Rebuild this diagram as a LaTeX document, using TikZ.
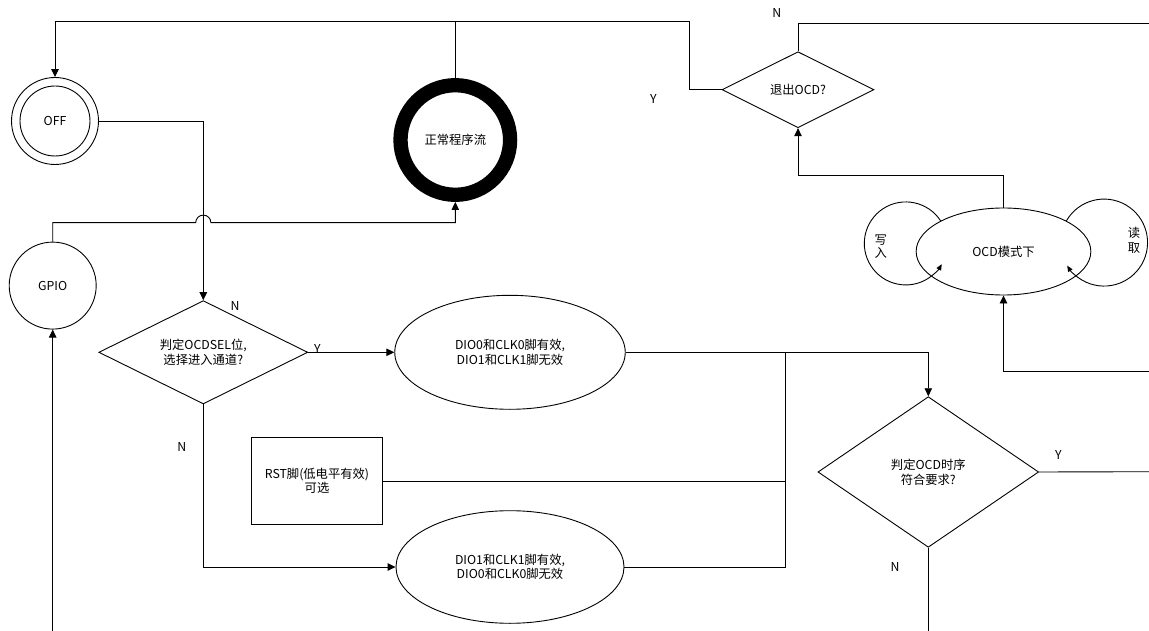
\documentclass[tikz,border=0pt]{standalone}
\usepackage{fontspec}
\setmainfont{Noto Sans CJK SC}
\usetikzlibrary{shapes.geometric,arrows.meta,calc}
\begin{document}
\begin{tikzpicture}[x=1pt,y=-1pt,
  every node/.style={font=\fontsize{12.3pt}{14.6pt}\selectfont, inner sep=0pt},
  ln/.style={line width=0.9pt, draw=black},
  arr/.style={ln, -{Triangle[length=8pt,width=7.5pt]}},
  sarr/.style={ln, -{Triangle[length=6pt,width=5pt]}},
  dia/.style={diamond, draw, line width=0.9pt, aspect=2, align=center},
  ell/.style={ellipse, draw, line width=0.9pt, align=center},
  circ/.style={circle, draw, line width=0.9pt, minimum size=87pt}
]
\fill[white] (0,0) rectangle (1149,631);
\useasboundingbox (0,0) rectangle (1149,631);

% nodes
\node[circ] (off) at (55,121) {OFF};
\draw[ln] (off.center) circle[radius=35pt];
\node[circle, draw, line width=14.3pt, minimum size=109.6pt] (normal) at (455.3,140) {正常程序流};
\node[circ] (gpio) at (52.7,285.6) {GPIO};
\node[dia, minimum width=152pt, minimum height=76pt] (exit) at (798,89.7) {退出OCD?};
\node[ell, minimum width=174.7pt, minimum height=87pt] (ocd) at (1003.5,251.5) {OCD模式下};
\node[dia, minimum width=209pt, minimum height=103.3pt] (sel) at (203.3,352.3) {判定OCDSEL位,\\选择进入通道?};
\node[ell, minimum width=230.5pt, minimum height=114pt] (e1) at (510,352.3) {DIO0和CLK0脚有效,\\DIO1和CLK1脚无效};
\node[ell, minimum width=228pt, minimum height=112.6pt] (e2) at (510,567) {DIO1和CLK1脚有效,\\DIO0和CLK0脚无效};
\node[draw, line width=0.9pt, minimum width=131.4pt, minimum height=86.6pt, align=center] (rst) at (317,481) {RST脚(低电平有效)\\可选};
\node[dia, minimum width=220.7pt, minimum height=150.6pt] (ocdt) at (928.3,472) {判定OCD时序\\符合要求?};

% loop labels
\node[align=center, font=\fontsize{12.3pt}{13.5pt}\selectfont] (wr) at (880.7,246.7) {写\\入};
\node[align=center, font=\fontsize{12.3pt}{15pt}\selectfont] (rd) at (1134,240.8) {读\\取};

% coordinates
\coordinate (tA) at (689,21.3);
\coordinate (tB) at (1149,23.3);
\coordinate (tC) at (1003.5,175.7);
\coordinate (tD) at (1149,371.7);
\coordinate (hop) at (203.3,222.7);
\coordinate (J) at (785.6,352.3);
\coordinate (tE) at (1149,471.7);
\coordinate (tF) at (928.3,631);
\coordinate (tG) at (52.7,631);

% connectors
\draw[arr] (exit.west) -| (tA) -| (off.north);
\draw[ln] (normal.north) -- (normal.north |- tA);
\draw[ln] (exit.north) |- (tB);
\draw[arr] (ocd.north) -- (tC) -| (exit.south);
\draw[arr] (tD) -| (ocd.south);
\draw[sarr] (ocd.154) arc[start angle=33,end angle=330,radius=41.5pt];
\draw[sarr] (ocd.26) arc[start angle=150,end angle=-148,radius=43.5pt];
\draw[arr] (off.east) -| (sel.north);
\draw[arr] (gpio.north) |- ([xshift=-7.6pt]hop) arc[start angle=180,end angle=0,radius=7.6pt] -| (normal.south);
\draw[arr] (tG) -- (gpio.south);
\draw[arr] (sel.east) -- (e1.west);
\draw[arr] (sel.south) |- (e2.west);
\draw[arr] (e1.east) -| (ocdt.north);
\draw[ln] (e2.east) -| (J);
\draw[ln] (rst.east) -- (rst.east -| J);
\draw[ln] (ocdt.east) -- (tE);
\draw[ln] (ocdt.south) -- (tF);

% labels
\node (n1) at (235,306) {N};
\node (y1) at (317.3,349.3) {Y};
\node (n2) at (181.7,446.7) {N};
\node (y2) at (653.3,99.3) {Y};
\node (n3) at (776.7,12.7) {N};
\node (y3) at (1058.3,455) {Y};
\node (n4) at (895,566.7) {N};
\end{tikzpicture}
\end{document}
